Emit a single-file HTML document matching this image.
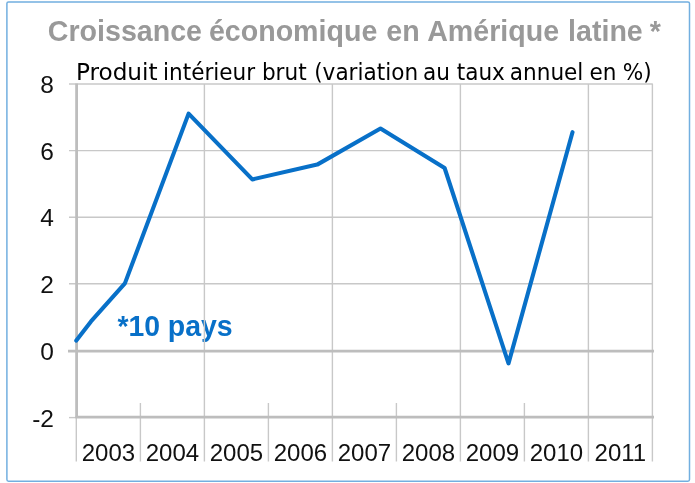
<!DOCTYPE html>
<html>
<head>
<meta charset="utf-8">
<style>
html,body{margin:0;padding:0;background:#fff;}
body{width:695px;height:483px;overflow:hidden;position:relative;}
svg{position:absolute;left:0;top:0;will-change:transform;}
</style>
</head>
<body>
<svg width="695" height="483" viewBox="0 0 695 483" xmlns="http://www.w3.org/2000/svg">
  <!-- outer border -->
  <rect x="6.9" y="1.9" width="682.6" height="479.3" rx="1.6" ry="1.6" fill="#fff" stroke="#72afe0" stroke-width="1.5"/>

  <!-- title -->
  <g font-family="Liberation Sans, Arial, sans-serif" font-size="28.6" font-weight="bold" fill="#999999">
    <text x="47.8" y="40.9">Croissance</text>
    <text x="208.9" y="40.9">économique</text>
    <text x="386.3" y="40.9">en</text>
    <text x="427.2" y="40.9">Amérique</text>
    <text x="568.1" y="40.9">latine</text>
    <text x="649.7" y="40.9">*</text>
  </g>
  <!-- subtitle -->
  <g font-family="DejaVu Sans, sans-serif" font-size="21.6" fill="#000" transform="translate(0 79.7) scale(1 1.08) translate(0 -79.7)">
    <text x="75.9" y="79.7" textLength="81.7" lengthAdjust="spacingAndGlyphs">Produit</text>
    <text x="163.0" y="79.7">intérieur</text>
    <text x="261.9" y="79.7">brut</text>
    <text x="314.2" y="79.7">(variation</text>
    <text x="422.9" y="79.7">au</text>
    <text x="456.7" y="79.7">taux</text>
    <text x="509.8" y="79.7">annuel</text>
    <text x="589.4" y="79.7">en</text>
    <text x="622.7" y="79.7">%)</text>
  </g>

  <!-- note -->
  <g font-family="Liberation Sans, Arial, sans-serif" font-size="29.5" font-weight="bold" fill="#0870c8">
    <text x="117.5" y="335.6" textLength="42.6" lengthAdjust="spacingAndGlyphs">*10</text>
    <text x="167.8" y="335.6" textLength="64.9" lengthAdjust="spacingAndGlyphs">pays</text>
  </g>
  <!-- thin horizontal gridlines -->
  <g stroke="#c8c8c8" stroke-width="1.4" fill="none">
    <line x1="69" y1="84" x2="652.8" y2="84"/>
    <line x1="69" y1="150.6" x2="652.8" y2="150.6"/>
    <line x1="69" y1="217.2" x2="652.8" y2="217.2"/>
    <line x1="69" y1="283.8" x2="652.8" y2="283.8"/>
  </g>
  <!-- vertical gridlines -->
  <g stroke="#c8c8c8" stroke-width="1.4" fill="none">
    <line x1="204.4" y1="84" x2="204.4" y2="461.5"/>
    <line x1="332.4" y1="84" x2="332.4" y2="461.5"/>
    <line x1="460.4" y1="84" x2="460.4" y2="461.5"/>
    <line x1="588.4" y1="84" x2="588.4" y2="461.5"/>
    <line x1="652.4" y1="84" x2="652.4" y2="461.5"/>
    <line x1="140.4" y1="403" x2="140.4" y2="461.5"/>
    <line x1="268.4" y1="403" x2="268.4" y2="461.5"/>
    <line x1="396.4" y1="403" x2="396.4" y2="461.5"/>
    <line x1="524.4" y1="403" x2="524.4" y2="461.5"/>
    <line x1="76.3" y1="417" x2="76.3" y2="461.5"/>
    <line x1="69" y1="417.6" x2="77" y2="417.6"/>
  </g>
  <!-- thick lines -->
  <g stroke="#bdbdbd" stroke-width="2.8" fill="none">
    <line x1="68" y1="351.1" x2="654" y2="351.1"/>
    <line x1="75.5" y1="417.1" x2="654" y2="417.1"/>
    <line x1="76.6" y1="83.4" x2="76.6" y2="418"/>
  </g>

  <!-- y labels -->
  <g font-family="Liberation Sans, Arial, sans-serif" font-size="24.5" fill="#111" text-anchor="end">
    <text x="54" y="93.1">8</text>
    <text x="54" y="159.7">6</text>
    <text x="54" y="226.4">4</text>
    <text x="54" y="293.1">2</text>
    <text x="54" y="360">0</text>
    <text x="54" y="426.8">-2</text>
  </g>
  <!-- x labels -->
  <g font-family="Liberation Sans, Arial, sans-serif" font-size="24" fill="#111" text-anchor="middle">
    <text x="108.4" y="461">2003</text>
    <text x="172.4" y="461">2004</text>
    <text x="236.4" y="461">2005</text>
    <text x="300.4" y="461">2006</text>
    <text x="364.4" y="461">2007</text>
    <text x="428.4" y="461">2008</text>
    <text x="492.4" y="461">2009</text>
    <text x="556.4" y="461">2010</text>
    <text x="620.4" y="461">2011</text>
  </g>

  <!-- data line -->
  <polyline fill="none" stroke="#0870c8" stroke-width="4.1" stroke-linejoin="round" stroke-linecap="round"
    points="76.3,340.6 91,321.4 124.9,283.4 188.6,113.6 252.3,179.4 317.2,164.6 380.5,128.5 444.6,168 508.5,363.4 572.5,132.2"/>

</svg>
</body>
</html>
